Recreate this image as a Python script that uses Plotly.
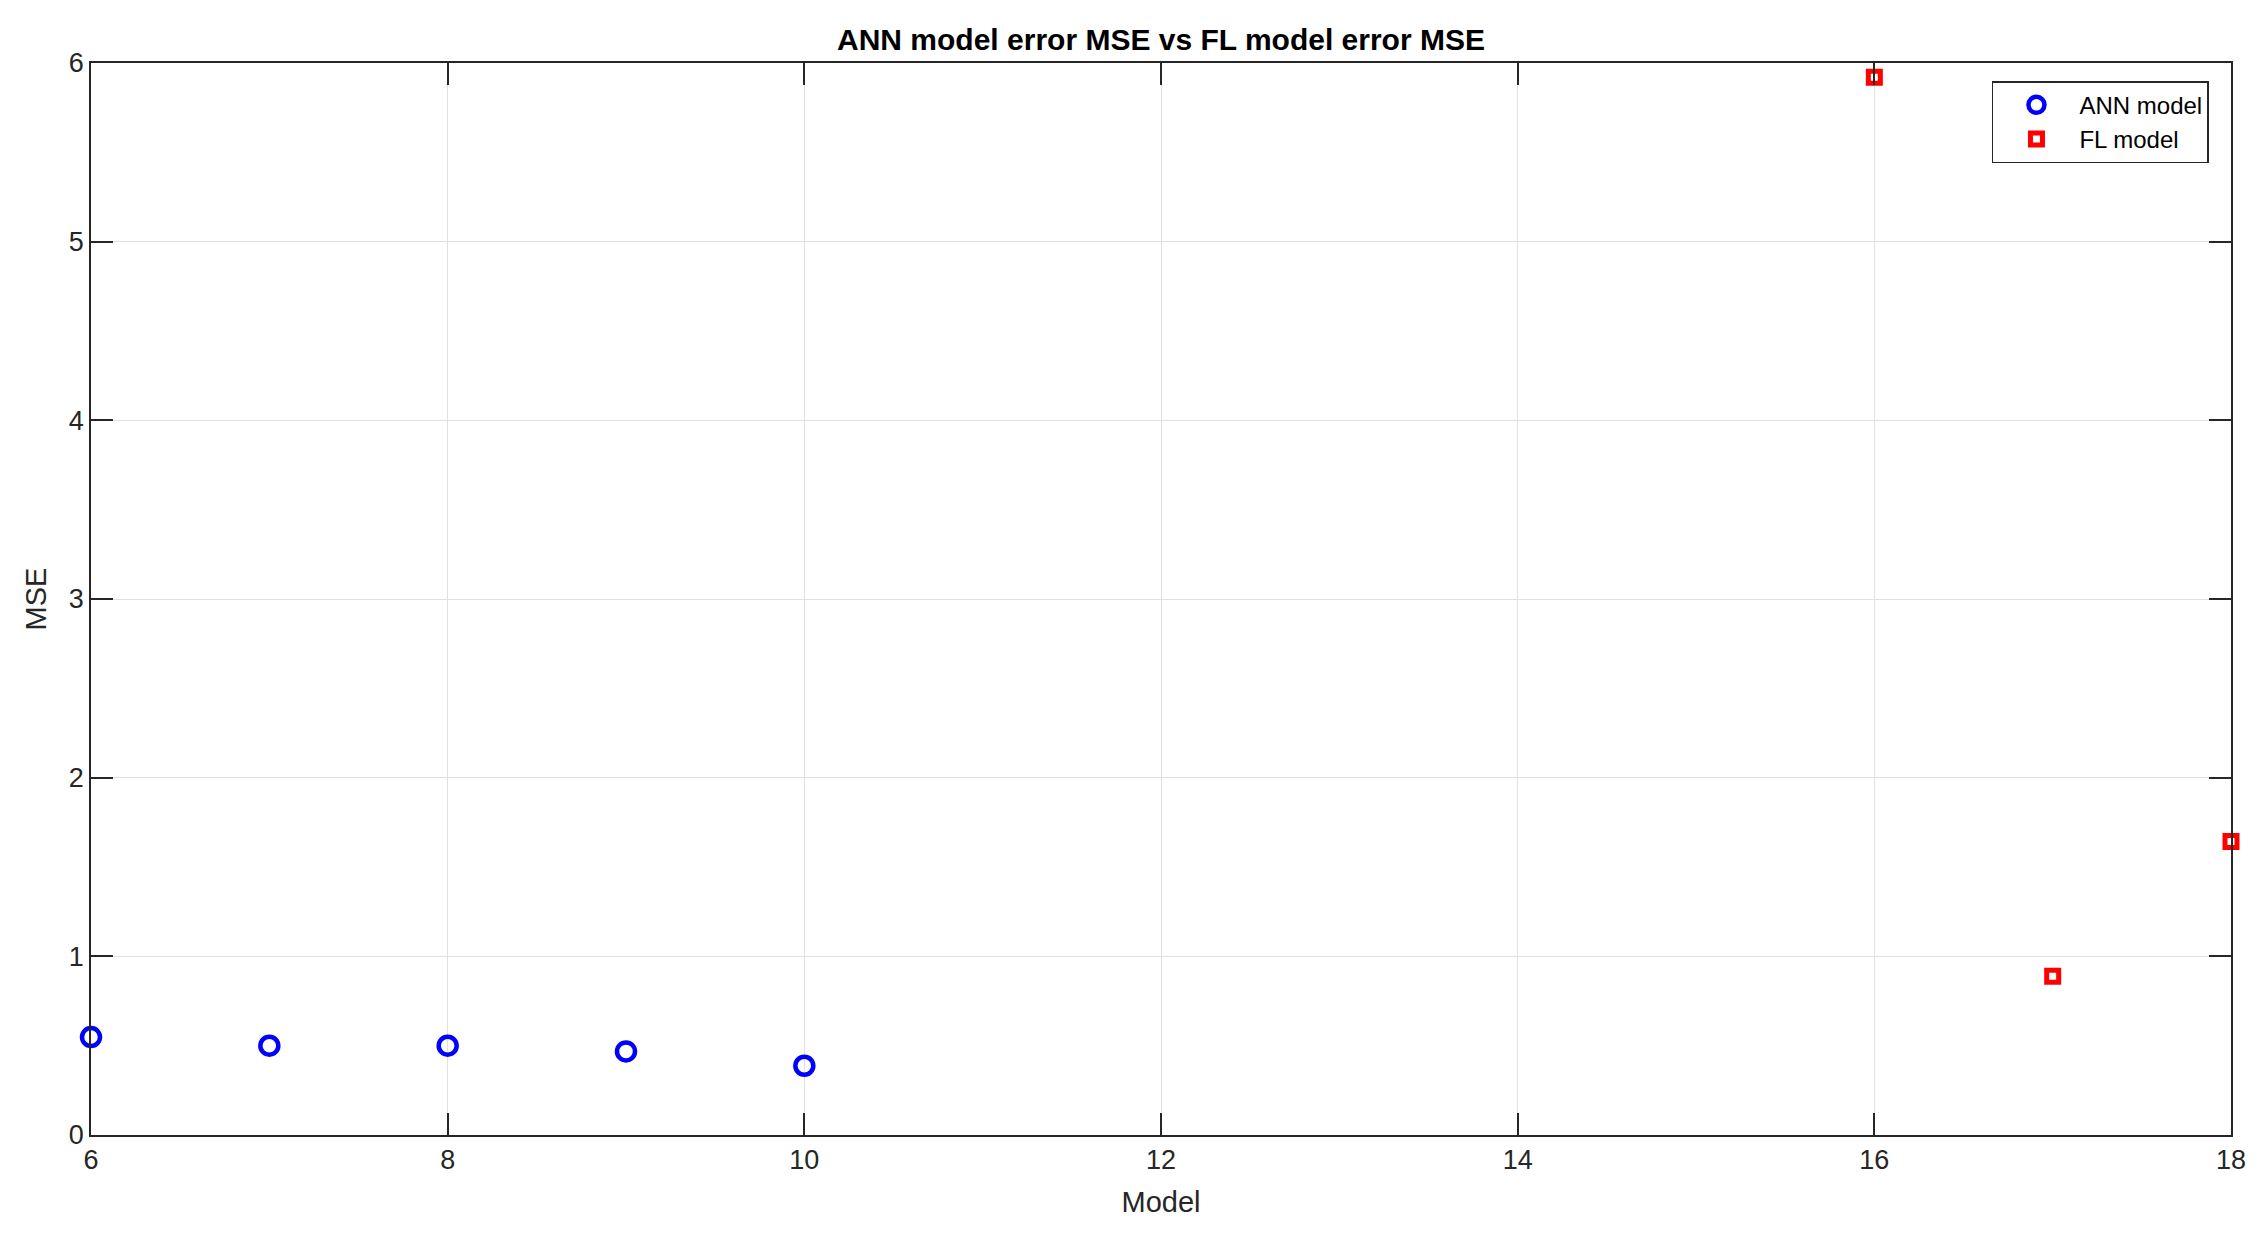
import plotly.graph_objects as go

# ── data ────────────────────────────────────────────────────────────────────
ann_models = [6, 7, 8, 9, 10]
ann_mse = [0.548, 0.50, 0.50, 0.468, 0.388]

fl_models = [16, 17, 18]
fl_mse = [5.92, 0.888, 1.643]

x_ticks = [6, 8, 10, 12, 14, 16, 18]
y_ticks = [0, 1, 2, 3, 4, 5, 6]

# ── MATLAB-ish styling ──────────────────────────────────────────────────────
FONT = "Liberation Sans, Arial, Helvetica, sans-serif"
AXIS_DARK = "#262626"
GRID = "#e0e0e0"

# page body has an 8px margin, so the figure container is 2252 x 1221
PAGE_PAD = 8
CONTAINER_H = 1237 - 2 * PAGE_PAD

fig = go.Figure()
fig.add_trace(go.Scatter(
    x=ann_models, y=ann_mse,
    mode="markers", name="ANN model",
    marker=dict(symbol="circle-open", size=18, color="#0000ff",
                line=dict(color="#0000ff", width=4.5)),
    cliponaxis=False,
))
fig.add_trace(go.Scatter(
    x=fl_models, y=fl_mse,
    mode="markers", name="FL model",
    marker=dict(symbol="square-open", size=12, color="#ff0000",
                line=dict(color="#ff0000", width=5)),
    cliponaxis=False,
))

fig.update_layout(
    margin=dict(l=91 - PAGE_PAD, r=37 - PAGE_PAD, t=63 - PAGE_PAD, b=102 - PAGE_PAD),
    plot_bgcolor="white",
    paper_bgcolor="white",
    font=dict(family=FONT, color=AXIS_DARK, size=27),
    title=dict(
        text="<b>ANN model error MSE vs FL model error MSE</b>",
        font=dict(family=FONT, size=30, color="#000000"),
        x=0.5, xanchor="center", xref="paper",
        y=1 - (39 - PAGE_PAD) / CONTAINER_H, yref="container", yanchor="middle",
    ),
    legend=dict(
        x=0.9897, xanchor="right",
        y=0.983, yanchor="top",
        bgcolor="white",
        bordercolor=AXIS_DARK, borderwidth=1.5,
        font=dict(family=FONT, size=24, color="#000000"),
        itemwidth=76,
        tracegroupgap=0,
    ),
    showlegend=True,
)
fig.update_xaxes(
    range=[6, 18], tickvals=x_ticks,
    title=dict(text="Model", font=dict(family=FONT, size=29, color=AXIS_DARK), standoff=18),
    showgrid=True, gridcolor=GRID, gridwidth=1,
    zeroline=False,
    showline=True, linecolor=AXIS_DARK, linewidth=1.5, mirror="ticks",
    ticks="inside", ticklen=22, tickwidth=1.5, tickcolor=AXIS_DARK,
    tickfont=dict(family=FONT, size=27, color=AXIS_DARK),
)
fig.update_yaxes(
    range=[0, 6], tickvals=y_ticks,
    title=dict(text="MSE", font=dict(family=FONT, size=29, color=AXIS_DARK), standoff=14),
    showgrid=True, gridcolor=GRID, gridwidth=1,
    zeroline=False,
    showline=True, linecolor=AXIS_DARK, linewidth=1.5, mirror="ticks",
    ticks="inside", ticklen=22, tickwidth=1.5, tickcolor=AXIS_DARK,
    tickfont=dict(family=FONT, size=27, color=AXIS_DARK),
)

fig.write_html("out.html")
